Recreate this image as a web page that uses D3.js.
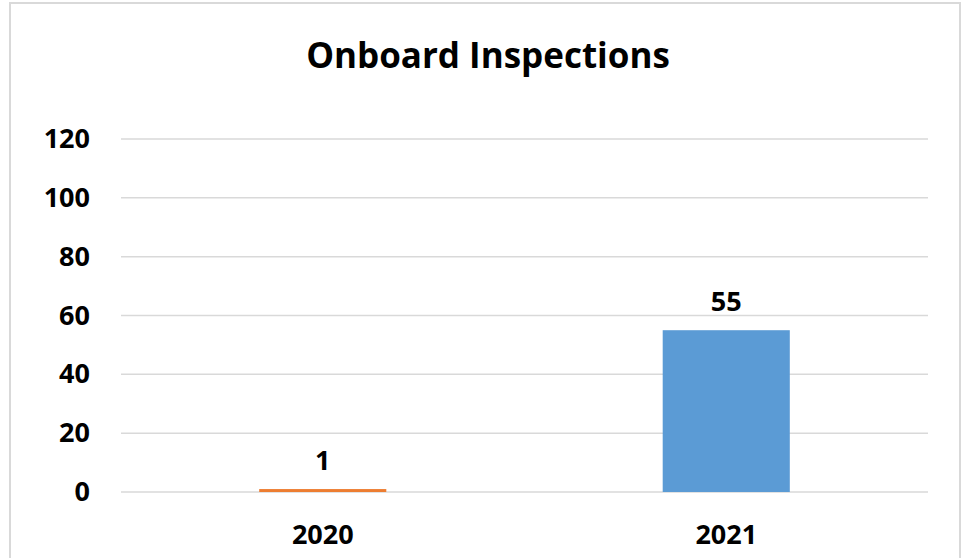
<!DOCTYPE html>
<html>
<head>
<meta charset="utf-8">
<script src="https://cdn.jsdelivr.net/npm/d3@7"></script>
<style>
  body { margin: 0; background: #fff; }
  text { font-family: "Open Sans", "Noto Sans", sans-serif; font-weight: bold; fill: #000; }
</style>
</head>
<body>
<script>
// Chart data
var years = ["2020", "2021"];
var inspections = [1, 55];
var barColors = ["#ed7d31", "#5b9bd5"];
var yTicks = [0, 20, 40, 60, 80, 100, 120];

// SVG size
var svgWidth = 965;
var svgHeight = 558;

// Plot area margins
var margin = { top: 139, right: 37, bottom: 66, left: 121 };
var chartWidth = svgWidth - margin.left - margin.right;
var chartHeight = svgHeight - margin.top - margin.bottom;

var svg = d3.select("body")
  .append("svg")
  .attr("width", svgWidth)
  .attr("height", svgHeight);

// Outer chart border
svg.append("rect")
  .attr("x", 10)
  .attr("y", 3)
  .attr("width", 950)
  .attr("height", 570)
  .attr("fill", "none")
  .attr("stroke", "#d9d9d9")
  .attr("stroke-width", 2);

// Title
svg.append("text")
  .attr("x", 488)
  .attr("y", 68)
  .attr("text-anchor", "middle")
  .style("font-size", "35px")
  .text("Onboard Inspections");

var chartGroup = svg.append("g")
  .attr("transform", `translate(${margin.left}, ${margin.top})`);

// Scales
var xBandScale = d3.scaleBand()
  .domain(years)
  .range([0, chartWidth])
  .paddingInner(0.685)
  .paddingOuter(0.3425);

var yLinearScale = d3.scaleLinear()
  .domain([0, 120])
  .range([chartHeight, 0]);

// Gridlines
chartGroup.append("g")
  .selectAll("line")
  .data(yTicks)
  .enter()
  .append("line")
  .attr("x1", 0)
  .attr("x2", chartWidth)
  .attr("y1", d => yLinearScale(d))
  .attr("y2", d => yLinearScale(d))
  .attr("stroke", "#d9d9d9")
  .attr("stroke-width", 1.5);

// Y axis labels
var leftAxis = d3.axisLeft(yLinearScale).tickValues(yTicks).tickSize(0).tickPadding(31);
var yAxisGroup = chartGroup.append("g").call(leftAxis);
yAxisGroup.select(".domain").remove();
yAxisGroup.selectAll("text")
  .style("font-size", "27px")
  .style("font-family", "'Open Sans', sans-serif")
  .style("font-weight", "bold")
  .attr("fill", "#000");

// X axis labels
var bottomAxis = d3.axisBottom(xBandScale).tickSize(0).tickPadding(33);
var xAxisGroup = chartGroup.append("g")
  .attr("transform", `translate(0, ${chartHeight})`)
  .call(bottomAxis);
xAxisGroup.select(".domain").remove();
xAxisGroup.selectAll("text")
  .style("font-size", "27px")
  .style("font-family", "'Open Sans', sans-serif")
  .style("font-weight", "bold")
  .attr("fill", "#000");

var barData = years.map((y, i) => ({ year: y, value: inspections[i], color: barColors[i] }));

// Bars
chartGroup.selectAll("rect.bar")
  .data(barData)
  .enter()
  .append("rect")
  .attr("class", "bar")
  .attr("x", d => xBandScale(d.year))
  .attr("y", d => yLinearScale(d.value))
  .attr("width", xBandScale.bandwidth())
  .attr("height", d => chartHeight - yLinearScale(d.value))
  .attr("fill", d => d.color);

// Value labels
chartGroup.selectAll("text.value")
  .data(barData)
  .enter()
  .append("text")
  .attr("class", "value")
  .attr("x", d => xBandScale(d.year) + xBandScale.bandwidth() / 2)
  .attr("y", d => yLinearScale(d.value) - 19)
  .attr("text-anchor", "middle")
  .style("font-size", "27px")
  .text(d => d.value);
</script>
</body>
</html>
